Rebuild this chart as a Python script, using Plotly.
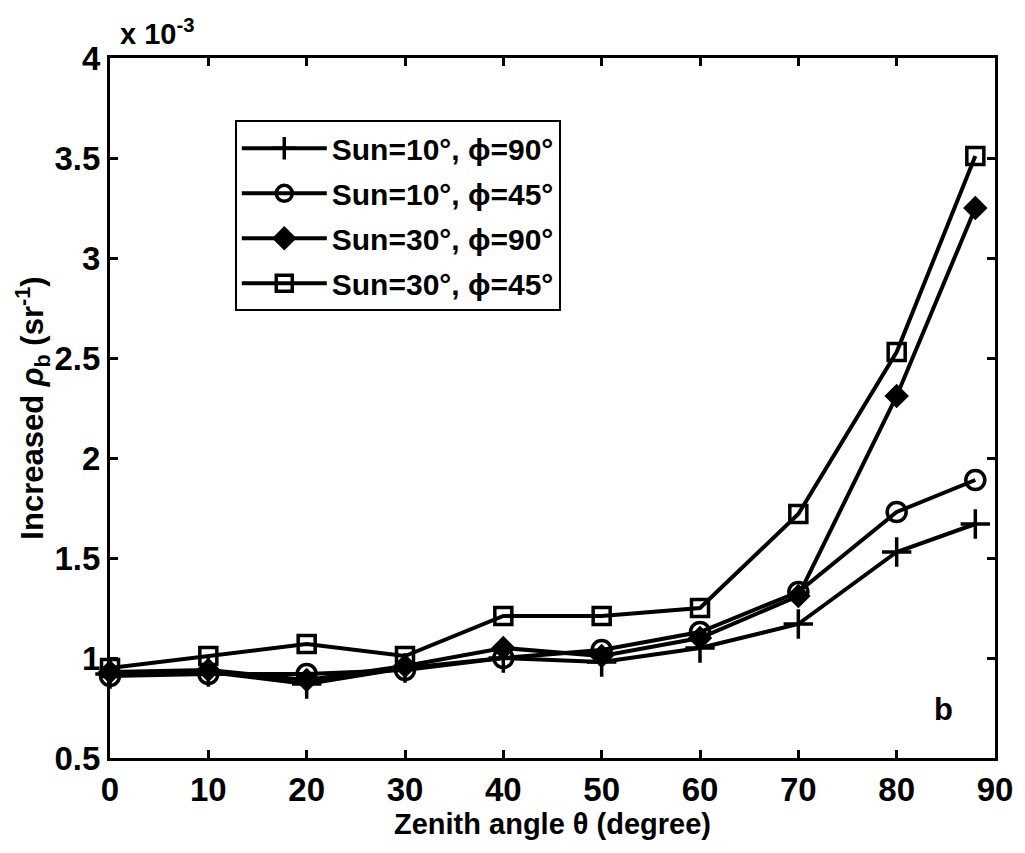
import plotly.graph_objects as go

zenith = [0, 10, 20, 30, 40, 50, 60, 70, 80, 88]
sun10_phi90 = [0.92, 0.93, 0.87, 0.95, 1.00, 0.98, 1.05, 1.17, 1.53, 1.67]
sun10_phi45 = [0.91, 0.92, 0.92, 0.94, 1.00, 1.04, 1.13, 1.33, 1.73, 1.89]
sun30_phi90 = [0.93, 0.94, 0.89, 0.96, 1.05, 1.01, 1.10, 1.31, 2.31, 3.25]
sun30_phi45 = [0.95, 1.01, 1.07, 1.01, 1.21, 1.21, 1.25, 1.72, 2.53, 3.51]

names = ["Sun=10°, ϕ=90°", "Sun=10°, ϕ=45°", "Sun=30°, ϕ=90°", "Sun=30°, ϕ=45°"]
series = [sun10_phi90, sun10_phi45, sun30_phi90, sun30_phi45]
symbols = ["cross-thin-open", "circle-open", "diamond", "square-open"]
sizes = [21, 19, 15, 17]

ytick_vals = [0.5, 1, 1.5, 2, 2.5, 3, 3.5, 4]
ytick_text = ["0.5", "1", "1.5", "2", "2.5", "3", "3.5", "4"]
xtick_vals = [0, 10, 20, 30, 40, 50, 60, 70, 80, 90]

FONT = "Liberation Sans, Arial, sans-serif"

fig = go.Figure()
for i, (nm, ys, sym, sz) in enumerate(zip(names, series, symbols, sizes)):
    fig.add_trace(go.Scatter(
        x=zenith, y=ys, name=nm, mode="lines+markers",
        line=dict(color="black", width=4),
        marker=dict(symbol=sym, size=sz, color="black",
                    line=dict(color="black", width=3.5)),
        cliponaxis=False, legendgroup=f"g{i}",
    ))

axis_common = dict(
    showgrid=False, zeroline=False, showline=True, linecolor="black",
    linewidth=3, mirror="ticks", ticks="inside", ticklen=8, tickwidth=3,
    tickcolor="black",
    tickfont=dict(family=FONT, size=33, color="black", weight="bold"),
)

fig.update_layout(
    width=1025, height=853,
    margin=dict(l=110, r=27, t=58, b=95),
    paper_bgcolor="white", plot_bgcolor="white",
    font=dict(family=FONT, color="black", weight="bold"),
    xaxis=dict(range=[0, 90], tickvals=xtick_vals,
               title=dict(text="Zenith angle θ (degree)", standoff=4,
                          font=dict(family=FONT, size=29, color="black", weight="bold")),
               **axis_common),
    yaxis=dict(range=[0.5, 4], tickvals=ytick_vals, ticktext=ytick_text,
               title=dict(text="Increased <i>ρ</i><sub>b</sub> (sr<sup>-1</sup>)",
                          standoff=2,
                          font=dict(family=FONT, size=31, color="black", weight="bold")),
               **axis_common),
    legend=dict(x=0.141, y=0.911, xanchor="left", yanchor="top",
                bgcolor="white", bordercolor="black", borderwidth=2,
                font=dict(family=FONT, size=30, color="black", weight="bold"),
                tracegroupgap=3, itemwidth=85),
    showlegend=True,
)

fig.add_annotation(x=0, y=1, xref="paper", yref="paper", xanchor="left", yanchor="bottom",
                   xshift=8, yshift=6, showarrow=False,
                   text="x 10<sup>-3</sup>",
                   font=dict(family=FONT, size=29, color="black", weight="bold"))
fig.add_annotation(x=0.955, y=0.042, xref="paper", yref="paper", showarrow=False,
                   text="b", font=dict(family=FONT, size=31, color="black", weight="bold"))

fig.write_html("out.html")
